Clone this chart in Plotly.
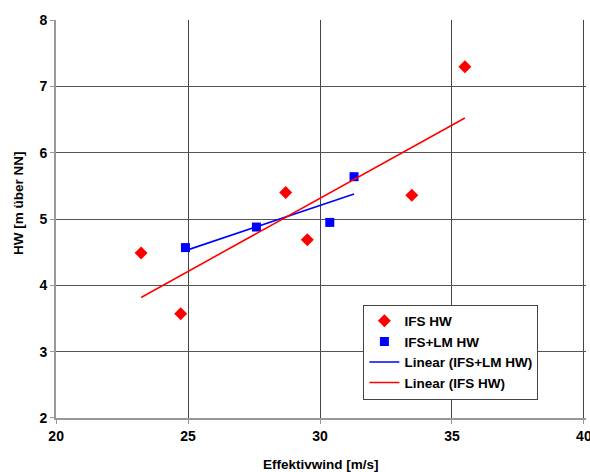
import numpy as np
import plotly.graph_objects as go

ifs_x = [23.22, 24.72, 28.70, 29.52, 33.48, 35.49]
ifs_y = [4.49, 3.57, 5.40, 4.69, 5.36, 7.30]
lm_x = [24.90, 27.59, 30.37, 31.29]
lm_y = [4.57, 4.88, 4.95, 5.64]

x_ticks = [20, 25, 30, 35, 40]
y_ticks = [2, 3, 4, 5, 6, 7, 8]

def fit(xs, ys):
    k, d = np.polyfit(xs, ys, 1)
    x0, x1 = min(xs), max(xs)
    return [x0, x1], [k * x0 + d, k * x1 + d]

fx_lm, fy_lm = fit(lm_x, lm_y)
fx_ifs, fy_ifs = fit(ifs_x, ifs_y)

FONT = "Liberation Sans"
BOLD = dict(family=FONT, size=14, color="black", weight="bold")

fig = go.Figure()
fig.add_trace(go.Scatter(x=ifs_x, y=ifs_y, mode="markers", name="IFS HW",
                         marker=dict(symbol="diamond", size=10, color="#FF0000")))
fig.add_trace(go.Scatter(x=lm_x, y=lm_y, mode="markers", name="IFS+LM HW",
                         marker=dict(symbol="square", size=9, color="#0000FF")))
fig.add_trace(go.Scatter(x=fx_lm, y=fy_lm, mode="lines", name="Linear (IFS+LM HW)",
                         line=dict(color="#0000FF", width=1.6)))
fig.add_trace(go.Scatter(x=fx_ifs, y=fy_ifs, mode="lines", name="Linear (IFS HW)",
                         line=dict(color="#FF0000", width=1.6)))

fig.update_layout(
    width=590, height=472,
    margin=dict(l=56, r=4, t=20, b=54, autoexpand=False),
    paper_bgcolor="white", plot_bgcolor="white",
    font=dict(family=FONT, size=13, color="black"),
    showlegend=True,
    legend=dict(x=0.58, y=0.285, xanchor="left", yanchor="top",
                bgcolor="white", bordercolor="#444", borderwidth=1,
                font=dict(family=FONT, size=13.5, color="black", weight="bold"),
                tracegroupgap=0, itemwidth=30),
    xaxis=dict(range=[19.995, 40.08], tickvals=x_ticks, automargin=False,
               tickfont=BOLD, ticklabeloverflow="allow",
               showgrid=True, gridcolor="#444", gridwidth=1,
               showline=True, linecolor="#999", linewidth=2,
               ticks="outside", ticklen=4, tickcolor="#999",
               zeroline=False),
    yaxis=dict(range=[1.998, 8.005], tickvals=y_ticks, automargin=False,
               tickfont=BOLD,
               showgrid=True, gridcolor="#555", gridwidth=1,
               showline=True, linecolor="#999", linewidth=2,
               ticks="outside", ticklen=4, tickcolor="#999",
               zeroline=False),
    annotations=[
        dict(text="Effektivwind [m/s]", xref="paper", yref="paper",
             x=0.5, y=-0.093, xanchor="center", yanchor="top", showarrow=False,
             font=dict(family=FONT, size=13.5, color="black", weight="bold")),
        dict(text="HW [m über NN]", xref="paper", yref="paper",
             x=-0.072, y=0.54, xanchor="center", yanchor="middle", showarrow=False,
             textangle=-90,
             font=dict(family=FONT, size=13.5, color="black", weight="bold")),
    ],
)

fig.write_html("out.html", config={"displayModeBar": False},
               post_script="document.body.style.margin='0';document.body.style.overflow='hidden';")
